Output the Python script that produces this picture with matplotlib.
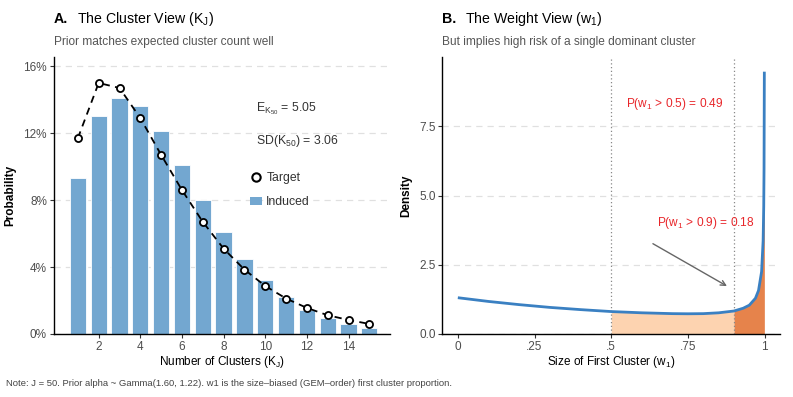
import matplotlib
matplotlib.use("Agg")
import matplotlib.pyplot as plt
from matplotlib.lines import Line2D
from matplotlib.patches import Patch
from matplotlib.ticker import FuncFormatter

plt.rcParams["font.family"] = ["Liberation Sans", "DejaVu Sans"]
plt.rcParams["mathtext.fontset"] = "custom"
plt.rcParams["mathtext.rm"] = "Liberation Sans"
plt.rcParams["mathtext.it"] = "Liberation Sans"

# Panel A data: number of clusters, induced and target probabilities (%)
clusters = list(range(1, 16))
induced = [9.3, 13.0, 14.1, 13.6, 12.1, 10.1, 8.0, 6.1, 4.5, 3.2, 2.2, 1.45, 0.93, 0.6, 0.35]
target = [11.7, 15.0, 14.7, 12.9, 10.7, 8.6, 6.7, 5.1, 3.85, 2.87, 2.12, 1.56, 1.12, 0.84, 0.6]
k_ticks = [2, 4, 6, 8, 10, 12, 14]
prob_ticks = [0, 4, 8, 12, 16]

# Panel B data: density of first cluster weight
w1 = [0.0, 0.1, 0.2, 0.3, 0.4, 0.5, 0.6, 0.7, 0.75, 0.8, 0.85, 0.9, 0.93,
      0.95, 0.97, 0.98, 0.99, 0.995, 0.997, 0.998, 0.999]
dens = [1.31, 1.175, 1.06, 0.96, 0.88, 0.81, 0.765, 0.735, 0.73, 0.735, 0.765,
        0.83, 0.93, 1.04, 1.29, 1.57, 2.25, 3.36, 4.6, 5.97, 9.47]
w_ticks = [0, 0.25, 0.5, 0.75, 1]
w_labels = ["0", ".25", ".5", ".75", "1"]
dens_ticks = [0.0, 2.5, 5.0, 7.5]

bar_col = "#73A7D0"
line_col = "#3A80C2"
peach = "#FDD3B0"
dark_orange = "#E6834B"
red = "#E8262A"
grey_txt = "#4D4D4D"

fig = plt.figure(figsize=(7.93, 3.97), dpi=100)
ax1 = fig.add_axes([0.068, 0.1587, 0.424, 0.6977])
ax2 = fig.add_axes([0.558, 0.1587, 0.4256, 0.6977])

for ax in (ax1, ax2):
    for s in ("top", "right"):
        ax.spines[s].set_visible(False)
    for s in ("left", "bottom"):
        ax.spines[s].set_linewidth(1.0)
        ax.spines[s].set_color("black")
    ax.tick_params(axis="both", labelsize=8.5, labelcolor=grey_txt, color="#333333",
                   length=3, width=0.8, pad=2)
    ax.yaxis.grid(True, linestyle=(0, (5, 4)), color="#E0E0E0", linewidth=0.9)
    ax.set_axisbelow(True)

# ---- Panel A ----
ax1.bar(clusters, induced, width=0.78, color=bar_col, edgecolor="white", linewidth=0.6, zorder=2)
ax1.plot(clusters, target, linestyle=(0, (4, 3)), color="black", linewidth=1.3, zorder=3)
ax1.scatter(clusters, target, s=26, facecolor="white", edgecolor="black", linewidth=1.3, zorder=4)
ax1.set_xlim(-0.15, 16.0)
ax1.set_ylim(0, 16.55)
ax1.set_xticks(k_ticks)
ax1.set_yticks(prob_ticks)
ax1.yaxis.set_major_formatter(FuncFormatter(lambda v, p: f"{v:.0f}%"))
ax1.set_xlabel("Number of Clusters (K$_\\mathrm{J}$)", fontsize=8.5, color="black", labelpad=1)
ax1.set_ylabel("Probability", fontsize=8.5, fontweight="bold", labelpad=5)

ax1.text(9.55, 13.45, "E$_{\\mathrm{K}_{50}}$ = 5.05", fontsize=8.8, color="#333333",
         va="center", ha="left")
ax1.text(9.55, 11.55, "SD(K$_{50}$) = 3.06", fontsize=8.8, color="#333333",
         va="center", ha="left")

handles = [
    Line2D([], [], marker="o", linestyle="none", markerfacecolor="white",
           markeredgecolor="black", markeredgewidth=1.5, markersize=6),
    Patch(facecolor=bar_col, edgecolor="none"),
]
ax1.legend(handles, ["Target", "Induced"], loc="upper left", bbox_to_anchor=(0.55, 0.625),
           frameon=False, fontsize=8.8, handlelength=1.0, handletextpad=0.35,
           labelspacing=1.0, labelcolor="#333333")

fig.text(0.068, 0.953, "A.", fontsize=10.2, fontweight="bold", ha="left", va="center")
fig.text(0.097, 0.953, "The Cluster View (K$_\\mathrm{J}$)", fontsize=10.2,
         ha="left", va="center")
fig.text(0.068, 0.894, "Prior matches expected cluster count well", fontsize=8.6,
         color="#555555", ha="left", va="center")

# ---- Panel B ----
mid = [(w, d) for w, d in zip(w1, dens) if 0.5 <= w <= 0.9]
tail = [(w, d) for w, d in zip(w1, dens) if w >= 0.9]
ax2.fill_between([p[0] for p in mid], 0, [p[1] for p in mid], color=peach, linewidth=0, zorder=1)
ax2.fill_between([p[0] for p in tail], 0, [p[1] for p in tail], color=dark_orange, linewidth=0, zorder=1)
ax2.axvline(0.5, color="#888888", linestyle=(0, (1, 2)), linewidth=0.9, zorder=2)
ax2.axvline(0.9, color="#888888", linestyle=(0, (1, 2)), linewidth=0.9, zorder=2)
ax2.plot(w1, dens, color=line_col, linewidth=2.0, zorder=3, solid_capstyle="butt")
ax2.set_xlim(-0.05, 1.05)
ax2.set_ylim(0, 10.0)
ax2.set_xticks(w_ticks)
ax2.set_xticklabels(w_labels)
ax2.set_yticks(dens_ticks)
ax2.set_yticklabels([f"{v:.1f}" for v in dens_ticks])
ax2.set_xlabel("Size of First Cluster (w$_1$)", fontsize=8.5, color="black", labelpad=1)
ax2.set_ylabel("Density", fontsize=8.5, fontweight="bold", labelpad=5)

ax2.text(0.708, 8.32, "P(w$_1$ > 0.5) = 0.49", color=red, fontsize=8.6, ha="center", va="center")
ax2.text(0.808, 3.99, "P(w$_1$ > 0.9) = 0.18", color=red, fontsize=8.6, ha="center", va="center")
ax2.annotate("", xy=(0.885, 1.68), xytext=(0.628, 3.31),
             arrowprops=dict(arrowstyle="->", color="#666666", linewidth=1.0,
                             mutation_scale=9))

fig.text(0.558, 0.953, "B.", fontsize=10.2, fontweight="bold", ha="left", va="center")
fig.text(0.587, 0.953, "The Weight View (w$_1$)", fontsize=10.2, ha="left", va="center")
fig.text(0.558, 0.894, "But implies high risk of a single dominant cluster", fontsize=8.6,
         color="#555555", ha="left", va="center")

fig.text(0.008, 0.033, "Note: J = 50. Prior alpha ~ Gamma(1.60, 1.22). w1 is the size\u2013biased "
         "(GEM\u2013order) first cluster proportion.", fontsize=6.8, color="#444444",
         ha="left", va="center")

fig.savefig("out.png", dpi=100, facecolor="white")
